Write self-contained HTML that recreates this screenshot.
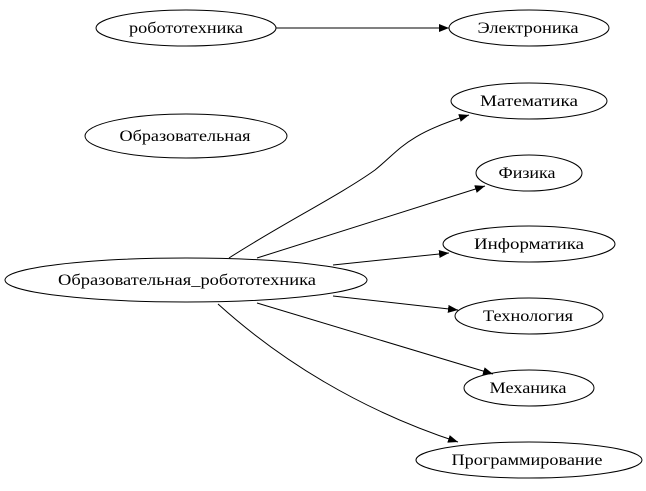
<!DOCTYPE html>
<html><head><meta charset="utf-8"><style>
html,body{margin:0;padding:0;background:#fff;}
svg{display:block;}
text{font-family:"Liberation Serif","DejaVu Serif",serif;font-size:16px;fill:#000;}
</style></head><body>
<svg width="646" height="491" viewBox="0 0 646 491" xmlns="http://www.w3.org/2000/svg">
<defs><marker id="a" markerWidth="10" markerHeight="8" refX="10" refY="4" orient="auto" markerUnits="userSpaceOnUse"><path d="M0,0 L10,4 L0,8 Z" fill="#000"/></marker></defs>
<g fill="none" stroke="#000" stroke-width="1">
<ellipse cx="186" cy="28" rx="90" ry="18"/>
<ellipse cx="529" cy="28" rx="80" ry="18"/>
<ellipse cx="186" cy="136" rx="101" ry="22"/>
<ellipse cx="529" cy="101" rx="78" ry="18"/>
<ellipse cx="529" cy="173" rx="53" ry="18"/>
<ellipse cx="529" cy="244" rx="86" ry="18"/>
<ellipse cx="529" cy="316" rx="74" ry="18"/>
<ellipse cx="529" cy="388" rx="65" ry="18"/>
<ellipse cx="529" cy="460" rx="113" ry="18"/>
<ellipse cx="186" cy="280" rx="181" ry="22"/>
<path d="M276,28 L449,28" marker-end="url(#a)"/>
<path d="M229,258 C280,225 340,195 375,170 C400,150 405,135 469,115" marker-end="url(#a)"/>
<path d="M257,258 L485,186" marker-end="url(#a)"/>
<path d="M333,265 L449,253" marker-end="url(#a)"/>
<path d="M333,296 L458,310" marker-end="url(#a)"/>
<path d="M257,303 L493,374" marker-end="url(#a)"/>
<path d="M218,304 C280,360 360,410 458,442" marker-end="url(#a)"/>
</g>
<g text-anchor="middle">
<text x="186" y="33" textLength="114" lengthAdjust="spacingAndGlyphs">робототехника</text>
<text x="528" y="33" textLength="101" lengthAdjust="spacingAndGlyphs">Электроника</text>
<text x="185" y="141" textLength="131" lengthAdjust="spacingAndGlyphs">Образовательная</text>
<text x="529" y="106" textLength="98" lengthAdjust="spacingAndGlyphs">Математика</text>
<text x="527" y="178" textLength="57" lengthAdjust="spacingAndGlyphs">Физика</text>
<text x="529" y="249" textLength="110" lengthAdjust="spacingAndGlyphs">Информатика</text>
<text x="528" y="321" textLength="90" lengthAdjust="spacingAndGlyphs">Технология</text>
<text x="528" y="393" textLength="77" lengthAdjust="spacingAndGlyphs">Механика</text>
<text x="527" y="465" textLength="151" lengthAdjust="spacingAndGlyphs">Программирование</text>
<text x="187" y="285" textLength="258" lengthAdjust="spacingAndGlyphs">Образовательная_робототехника</text>
</g>
</svg>
</body></html>
